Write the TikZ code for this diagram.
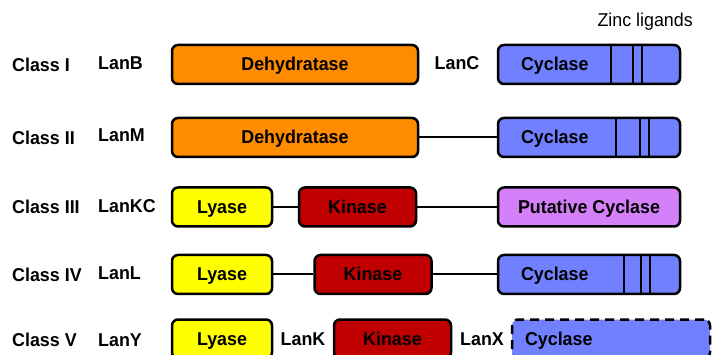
\documentclass[tikz,border=0pt]{standalone}
\usepackage{fontspec}
\setmainfont[FakeStretch=0.96]{Liberation Sans}
\definecolor{dehydfill}{HTML}{FF8C00}
\definecolor{cycfill}{HTML}{7080FF}
\definecolor{lyasefill}{HTML}{FFFF00}
\definecolor{kinfill}{HTML}{C00000}
\definecolor{putfill}{HTML}{D480F8}
\tikzset{
  dom/.style={draw,line width=2.5pt,rounded corners=6pt,minimum height=39pt,
    inner sep=0pt,text height=15pt,text depth=2pt,
    font=\bfseries\fontsize{18.6}{22}\selectfont},
  dehyd/.style={dom,fill=dehydfill,minimum width=246pt},
  cyc/.style={dom,fill=cycfill,text width=136pt,inner xsep=23pt,align=left},
  lyase/.style={dom,fill=lyasefill,minimum width=100pt},
  kin/.style={dom,fill=kinfill,minimum width=117pt},
  putcyc/.style={dom,fill=putfill,minimum width=182pt},
  tag/.style={font=\bfseries\fontsize{18.6}{22}\selectfont,inner sep=0pt},
  zinc/.style={line width=2.5pt},
  link/.style={line width=2pt}
}
\begin{document}
\begin{tikzpicture}[x=1pt,y=-1pt]
  \clip (0,0) rectangle (712,355);
  % class names and gene names
  \draw
    (12,64.5) node[tag,anchor=west] (c1){Class I}
    (12,137.5) node[tag,anchor=west] (c2){Class II}
    (12,207) node[tag,anchor=west] (c3){Class III}
    (12,274.5) node[tag,anchor=west] (c4){Class IV}
    (12,340) node[tag,anchor=west] (c5){Class V}
    (98,63.5) node[tag,anchor=west] (g1){LanB}
    (98,135.5) node[tag,anchor=west] (g2){LanM}
    (98,206) node[tag,anchor=west] (g3){LanKC}
    (98,273) node[tag,anchor=west] (g4){LanL}
    (98,340) node[tag,anchor=west] (g5){LanY}
    (457,63.5) node[tag] (lanc){LanC}
    (303,339) node[tag] (lank){LanK}
    (482,339) node[tag] (lanx){LanX}
    (693,22) node[anchor=east,inner sep=0pt,font=\fontsize{18.6}{22}\selectfont] (zl){Zinc ligands};
  % domains
  \draw
    (295,64.5) node[dehyd] (d1){Dehydratase}
    (589,64.5) node[cyc] (y1){Cyclase}
    (295,137.5) node[dehyd] (d2){Dehydratase}
    (589,137.5) node[cyc] (y2){Cyclase}
    (222,207) node[lyase] (l3){Lyase}
    (357.5,207) node[kin] (k3){Kinase}
    (589,207) node[putcyc] (y3){Putative Cyclase}
    (222,274.5) node[lyase] (l4){Lyase}
    (373,274.5) node[kin] (k4){Kinase}
    (589,274.5) node[cyc] (y4){Cyclase}
    (222,339) node[lyase] (l5){Lyase}
    (392.5,339) node[kin] (k5){Kinase}
    (611,339) node[cyc,dash pattern=on 9pt off 6pt,text width=172pt,inner xsep=13pt] (y5){Cyclase};
  \begin{scope}[link]
    \draw (d2) to (y2);
    \draw (l3) to (k3);
    \draw (k3) to (y3);
    \draw (l4) to (k4);
    \draw (k4) to (y4);
  \end{scope}
  \begin{scope}[zinc]
    \foreach \n/\a/\b/\c in {y1/114/136/145,y2/119/143/152,y4/127/144/153}{
      \draw ([xshift=\a pt]\n.north west) -- ([xshift=\a pt]\n.south west);
      \draw ([xshift=\b pt]\n.north west) -- ([xshift=\b pt]\n.south west);
      \draw ([xshift=\c pt]\n.north west) -- ([xshift=\c pt]\n.south west);
    }
  \end{scope}
\end{tikzpicture}
\end{document}
